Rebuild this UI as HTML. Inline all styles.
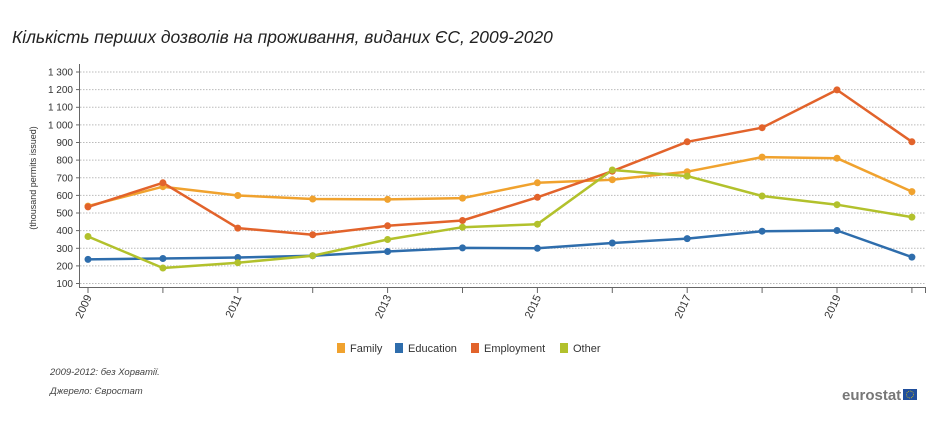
<!DOCTYPE html>
<html><head><meta charset="utf-8"><style>
body{margin:0;background:#fff;width:936px;height:416px;overflow:hidden;font-family:"Liberation Sans",sans-serif}
</style></head><body>
<svg width="936" height="416" xmlns="http://www.w3.org/2000/svg" font-family="Liberation Sans, sans-serif">
<text x="12" y="43" font-size="17.4" font-style="italic" fill="#222">Кількість перших дозволів на проживання, виданих ЄС, 2009-2020</text>
<g stroke="#bbb" stroke-dasharray="1.5,1.5" stroke-width="1">
<line x1="80" x2="926" y1="72" y2="72"/><line x1="80" x2="926" y1="89.6" y2="89.6"/><line x1="80" x2="926" y1="107.3" y2="107.3"/><line x1="80" x2="926" y1="124.9" y2="124.9"/><line x1="80" x2="926" y1="142.5" y2="142.5"/><line x1="80" x2="926" y1="160.1" y2="160.1"/><line x1="80" x2="926" y1="177.8" y2="177.8"/><line x1="80" x2="926" y1="195.4" y2="195.4"/><line x1="80" x2="926" y1="213" y2="213"/><line x1="80" x2="926" y1="230.6" y2="230.6"/><line x1="80" x2="926" y1="248.3" y2="248.3"/><line x1="80" x2="926" y1="265.9" y2="265.9"/><line x1="80" x2="926" y1="283.5" y2="283.5"/>
</g>
<g stroke="#666" stroke-width="1">
<line x1="79.5" x2="79.5" y1="64" y2="288"/>
<line x1="79.5" x2="926" y1="287.5" y2="287.5"/>
<line x1="76" x2="80" y1="72" y2="72"/><line x1="76" x2="80" y1="89.6" y2="89.6"/><line x1="76" x2="80" y1="107.3" y2="107.3"/><line x1="76" x2="80" y1="124.9" y2="124.9"/><line x1="76" x2="80" y1="142.5" y2="142.5"/><line x1="76" x2="80" y1="160.1" y2="160.1"/><line x1="76" x2="80" y1="177.8" y2="177.8"/><line x1="76" x2="80" y1="195.4" y2="195.4"/><line x1="76" x2="80" y1="213" y2="213"/><line x1="76" x2="80" y1="230.6" y2="230.6"/><line x1="76" x2="80" y1="248.3" y2="248.3"/><line x1="76" x2="80" y1="265.9" y2="265.9"/><line x1="76" x2="80" y1="283.5" y2="283.5"/>
<line x1="88" x2="88" y1="287" y2="293"/><line x1="162.9" x2="162.9" y1="287" y2="293"/><line x1="237.8" x2="237.8" y1="287" y2="293"/><line x1="312.7" x2="312.7" y1="287" y2="293"/><line x1="387.6" x2="387.6" y1="287" y2="293"/><line x1="462.5" x2="462.5" y1="287" y2="293"/><line x1="537.4" x2="537.4" y1="287" y2="293"/><line x1="612.3" x2="612.3" y1="287" y2="293"/><line x1="687.2" x2="687.2" y1="287" y2="293"/><line x1="762.1" x2="762.1" y1="287" y2="293"/><line x1="837" x2="837" y1="287" y2="293"/><line x1="911.9" x2="911.9" y1="287" y2="293"/><line x1="925.5" x2="925.5" y1="287" y2="293"/>
</g>
<g font-size="10" fill="#333" text-anchor="end">
<text x="73" y="75.5">1 300</text><text x="73" y="93">1 200</text><text x="73" y="110.7">1 100</text><text x="73" y="128.3">1 000</text><text x="73" y="146">900</text><text x="73" y="163.6">800</text><text x="73" y="181.3">700</text><text x="73" y="198.9">600</text><text x="73" y="216.5">500</text><text x="73" y="234.1">400</text><text x="73" y="251.8">300</text><text x="73" y="269.4">200</text><text x="73" y="287">100</text>
</g>
<text transform="translate(36,178) rotate(-90)" font-size="9" fill="#333" text-anchor="middle">(thousand permits issued)</text>
<g font-size="11" fill="#333" text-anchor="end">
<text transform="translate(92,297) rotate(-65)">2009</text>
<text transform="translate(241.8,297) rotate(-65)">2011</text>
<text transform="translate(391.6,297) rotate(-65)">2013</text>
<text transform="translate(541.4,297) rotate(-65)">2015</text>
<text transform="translate(691.2,297) rotate(-65)">2017</text>
<text transform="translate(841,297) rotate(-65)">2019</text>
</g>
<g fill="none" stroke-width="2.5" stroke-linejoin="round">
<polyline stroke="#f0a22e" points="88,206.1 162.9,186.7 237.8,195.5 312.7,199 387.6,199.4 462.5,198.1 537.4,182.8 612.3,179.7 687.2,171.7 762.1,157.1 837,158.2 911.9,191.6"/>
<polyline stroke="#2e6dac" points="88,259.4 162.9,258.5 237.8,257.5 312.7,255.7 387.6,251.5 462.5,247.9 537.4,248.3 612.3,243 687.2,238.6 762.1,231.2 837,230.5 911.9,257.1"/>
<polyline stroke="#e2632b" points="88,206.9 162.9,182.8 237.8,228.1 312.7,234.7 387.6,225.8 462.5,220.5 537.4,197.3 612.3,171.2 687.2,141.8 762.1,127.7 837,89.9 911.9,141.8"/>
<polyline stroke="#b2c12c" points="88,236.5 162.9,268 237.8,262.7 312.7,255.7 387.6,239.5 462.5,227.2 537.4,224.2 612.3,170 687.2,176.1 762.1,196 837,204.7 911.9,217.1"/>
</g>
<g fill="#f0a22e"><circle cx="88" cy="206.1" r="3.5"/><circle cx="162.9" cy="186.7" r="3.5"/><circle cx="237.8" cy="195.5" r="3.5"/><circle cx="312.7" cy="199" r="3.5"/><circle cx="387.6" cy="199.4" r="3.5"/><circle cx="462.5" cy="198.1" r="3.5"/><circle cx="537.4" cy="182.8" r="3.5"/><circle cx="612.3" cy="179.7" r="3.5"/><circle cx="687.2" cy="171.7" r="3.5"/><circle cx="762.1" cy="157.1" r="3.5"/><circle cx="837" cy="158.2" r="3.5"/><circle cx="911.9" cy="191.6" r="3.5"/></g>
<g fill="#2e6dac"><circle cx="88" cy="259.4" r="3.5"/><circle cx="162.9" cy="258.5" r="3.5"/><circle cx="237.8" cy="257.5" r="3.5"/><circle cx="312.7" cy="255.7" r="3.5"/><circle cx="387.6" cy="251.5" r="3.5"/><circle cx="462.5" cy="247.9" r="3.5"/><circle cx="537.4" cy="248.3" r="3.5"/><circle cx="612.3" cy="243" r="3.5"/><circle cx="687.2" cy="238.6" r="3.5"/><circle cx="762.1" cy="231.2" r="3.5"/><circle cx="837" cy="230.5" r="3.5"/><circle cx="911.9" cy="257.1" r="3.5"/></g>
<g fill="#e2632b"><circle cx="88" cy="206.9" r="3.5"/><circle cx="162.9" cy="182.8" r="3.5"/><circle cx="237.8" cy="228.1" r="3.5"/><circle cx="312.7" cy="234.7" r="3.5"/><circle cx="387.6" cy="225.8" r="3.5"/><circle cx="462.5" cy="220.5" r="3.5"/><circle cx="537.4" cy="197.3" r="3.5"/><circle cx="612.3" cy="171.2" r="3.5"/><circle cx="687.2" cy="141.8" r="3.5"/><circle cx="762.1" cy="127.7" r="3.5"/><circle cx="837" cy="89.9" r="3.5"/><circle cx="911.9" cy="141.8" r="3.5"/></g>
<g fill="#b2c12c"><circle cx="88" cy="236.5" r="3.5"/><circle cx="162.9" cy="268" r="3.5"/><circle cx="237.8" cy="262.7" r="3.5"/><circle cx="312.7" cy="255.7" r="3.5"/><circle cx="387.6" cy="239.5" r="3.5"/><circle cx="462.5" cy="227.2" r="3.5"/><circle cx="537.4" cy="224.2" r="3.5"/><circle cx="612.3" cy="170" r="3.5"/><circle cx="687.2" cy="176.1" r="3.5"/><circle cx="762.1" cy="196" r="3.5"/><circle cx="837" cy="204.7" r="3.5"/><circle cx="911.9" cy="217.1" r="3.5"/></g>
<g font-size="11" fill="#333">
<rect x="337" y="343" width="8" height="10" fill="#f0a22e"/><text x="350" y="352">Family</text>
<rect x="395" y="343" width="8" height="10" fill="#2e6dac"/><text x="408" y="352">Education</text>
<rect x="471" y="343" width="8" height="10" fill="#e2632b"/><text x="484" y="352">Employment</text>
<rect x="560" y="343" width="8" height="10" fill="#b2c12c"/><text x="573" y="352">Other</text>
</g>
<g font-size="9.5" font-style="italic" fill="#444">
<text x="50" y="375">2009-2012: без Хорватії.</text>
<text x="50" y="394">Джерело: Євростат</text>
</g>
<text x="842" y="400" font-size="15" font-weight="bold" fill="#777">eurostat</text>
<rect x="903" y="389" width="14" height="11" fill="#1f4e9c"/>
<circle cx="910" cy="394.5" r="3.5" fill="none" stroke="#f5d100" stroke-width="0.8" stroke-dasharray="0.8,1"/>
</svg>
</body></html>
